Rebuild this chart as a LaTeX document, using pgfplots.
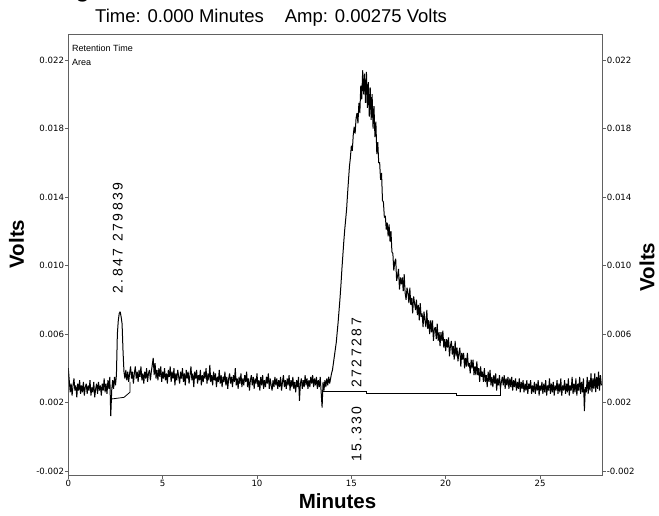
\documentclass[border=0pt]{standalone}
\usepackage{fontspec}
\setmainfont{Liberation Sans}
\usepackage{pgfplots}
\pgfplotsset{compat=1.18}
\usepackage{pgfplotstable}
\newfontfamily\tickfont{DejaVu Sans}
\newfontfamily\annfont[LetterSpace=18]{Liberation Sans}
\definecolor{axgray}{gray}{0.38}

\pgfplotstableread{
t v
0.00 0.0040
0.05 0.0033
0.10 0.0026
0.15 0.0031
0.20 0.0024
0.25 0.0030
0.30 0.0034
0.35 0.0027
0.40 0.0030
0.45 0.0023
0.50 0.0031
0.55 0.0027
0.60 0.0033
0.65 0.0025
0.70 0.0030
0.75 0.0026
0.80 0.0032
0.85 0.0024
0.90 0.0029
0.95 0.0031
1.00 0.0025
1.05 0.0030
1.10 0.0027
1.15 0.0033
1.20 0.0024
1.25 0.0029
1.30 0.0026
1.35 0.0032
1.40 0.0023
1.45 0.0028
1.50 0.0031
1.55 0.0025
1.60 0.0032
1.65 0.0027
1.70 0.0030
1.75 0.0024
1.80 0.0031
1.85 0.0027
1.90 0.0034
1.95 0.0026
2.00 0.0031
2.05 0.0025
2.10 0.0033
2.15 0.0028
2.20 0.0035
2.25 0.0012
2.30 0.0027
2.35 0.0033
2.40 0.0028
2.45 0.0035
2.50 0.0030
2.55 0.0036
2.60 0.0060
2.65 0.0068
2.70 0.0072
2.75 0.0073
2.80 0.0070
2.85 0.0066
2.90 0.0050
2.95 0.0038
3.00 0.0034
3.05 0.0039
3.10 0.0033
3.15 0.0038
3.20 0.0032
3.25 0.0037
3.30 0.0041
3.35 0.0034
3.40 0.0038
3.45 0.0031
3.50 0.0037
3.55 0.0041
3.60 0.0034
3.65 0.0038
3.70 0.0032
3.75 0.0039
3.80 0.0035
3.85 0.0041
3.90 0.0033
3.95 0.0037
4.00 0.0031
4.05 0.0038
4.10 0.0034
4.15 0.0040
4.20 0.0032
4.25 0.0037
4.30 0.0039
4.35 0.0033
4.40 0.0038
4.45 0.0042
4.50 0.0046
4.55 0.0036
4.60 0.0043
4.65 0.0034
4.70 0.0039
4.75 0.0033
4.80 0.0040
4.85 0.0035
4.90 0.0041
4.95 0.0032
5.00 0.0038
5.05 0.0034
5.10 0.0040
5.15 0.0033
5.20 0.0037
5.25 0.0031
5.30 0.0039
5.35 0.0035
5.40 0.0041
5.45 0.0032
5.50 0.0038
5.55 0.0034
5.60 0.0040
5.65 0.0030
5.70 0.0037
5.75 0.0033
5.80 0.0039
5.85 0.0035
5.90 0.0031
5.95 0.0038
6.00 0.0034
6.05 0.0040
6.10 0.0032
6.15 0.0037
6.20 0.0030
6.25 0.0039
6.30 0.0034
6.35 0.0038
6.40 0.0031
6.45 0.0036
6.50 0.0041
6.55 0.0033
6.60 0.0037
6.65 0.0029
6.70 0.0038
6.75 0.0034
6.80 0.0039
6.85 0.0031
6.90 0.0036
6.95 0.0033
7.00 0.0039
7.05 0.0030
7.10 0.0036
7.15 0.0032
7.20 0.0038
7.25 0.0034
7.30 0.0040
7.35 0.0031
7.40 0.0037
7.45 0.0033
7.50 0.0042
7.55 0.0032
7.60 0.0036
7.65 0.0030
7.70 0.0038
7.75 0.0033
7.80 0.0037
7.85 0.0029
7.90 0.0035
7.95 0.0032
8.00 0.0039
8.05 0.0031
8.10 0.0036
8.15 0.0029
8.20 0.0035
8.25 0.0032
8.30 0.0038
8.35 0.0030
8.40 0.0035
8.45 0.0028
8.50 0.0034
8.55 0.0037
8.60 0.0031
8.65 0.0035
8.70 0.0029
8.75 0.0036
8.80 0.0032
8.85 0.0040
8.90 0.0030
8.95 0.0034
9.00 0.0028
9.05 0.0035
9.10 0.0031
9.15 0.0037
9.20 0.0029
9.25 0.0034
9.30 0.0030
9.35 0.0036
9.40 0.0032
9.45 0.0038
9.50 0.0029
9.55 0.0034
9.60 0.0027
9.65 0.0033
9.70 0.0036
9.75 0.0030
9.80 0.0035
9.85 0.0028
9.90 0.0034
9.95 0.0031
10.00 0.0037
10.05 0.0029
10.10 0.0033
10.15 0.0027
10.20 0.0035
10.25 0.0030
10.30 0.0036
10.35 0.0028
10.40 0.0033
10.45 0.0029
10.50 0.0035
10.55 0.0031
10.60 0.0037
10.65 0.0028
10.70 0.0034
10.75 0.0030
10.80 0.0027
10.85 0.0033
10.90 0.0029
10.95 0.0035
11.00 0.0030
11.05 0.0034
11.10 0.0028
11.15 0.0033
11.20 0.0029
11.25 0.0035
11.30 0.0027
11.35 0.0032
11.40 0.0036
11.45 0.0029
11.50 0.0033
11.55 0.0028
11.60 0.0034
11.65 0.0030
11.70 0.0036
11.75 0.0027
11.80 0.0033
11.85 0.0029
11.90 0.0035
11.95 0.0028
12.00 0.0032
12.05 0.0026
12.10 0.0033
12.15 0.0029
12.20 0.0035
12.25 0.0021
12.30 0.0031
12.35 0.0034
12.40 0.0028
12.45 0.0033
12.50 0.0029
12.55 0.0036
12.60 0.0030
12.65 0.0034
12.70 0.0028
12.75 0.0033
12.80 0.0029
12.85 0.0035
12.90 0.0031
12.95 0.0036
13.00 0.0029
13.05 0.0034
13.10 0.0030
13.15 0.0035
13.20 0.0028
13.25 0.0033
13.30 0.0029
13.35 0.0035
13.40 0.0026
13.45 0.0017
13.50 0.0032
13.55 0.0027
13.60 0.0033
13.65 0.0029
13.70 0.0034
13.75 0.0030
13.80 0.0035
13.85 0.0031
13.90 0.0034
13.95 0.0037
14.00 0.0039
14.05 0.0043
14.10 0.0047
14.15 0.0051
14.20 0.0055
14.25 0.0061
14.30 0.0067
14.35 0.0074
14.40 0.0081
14.45 0.0089
14.50 0.0098
14.55 0.0106
14.60 0.0114
14.65 0.0121
14.70 0.0127
14.75 0.0133
14.80 0.0142
14.85 0.0150
14.90 0.0158
14.95 0.0163
15.00 0.0170
15.05 0.0167
15.10 0.0176
15.15 0.0181
15.20 0.0177
15.25 0.0186
15.30 0.0189
15.35 0.0183
15.40 0.0195
15.45 0.0189
15.50 0.0205
15.55 0.0197
15.60 0.0214
15.65 0.0200
15.70 0.0212
15.75 0.0195
15.80 0.0213
15.85 0.0192
15.90 0.0207
15.95 0.0187
16.00 0.0204
16.05 0.0185
16.10 0.0200
16.15 0.0180
16.20 0.0193
16.25 0.0175
16.30 0.0184
16.35 0.0165
16.40 0.0172
16.45 0.0160
16.50 0.0160
16.55 0.0150
16.60 0.0154
16.65 0.0138
16.70 0.0137
16.75 0.0128
16.80 0.0129
16.85 0.0121
16.90 0.0125
16.95 0.0117
17.00 0.0124
17.05 0.0114
17.10 0.0120
17.15 0.0108
17.20 0.0107
17.25 0.0097
17.30 0.0102
17.35 0.0104
17.40 0.0091
17.45 0.0094
17.50 0.0098
17.55 0.0086
17.60 0.0093
17.65 0.0089
17.70 0.0093
17.75 0.0085
17.80 0.0095
17.85 0.0084
17.90 0.0080
17.95 0.0087
18.00 0.0084
18.05 0.0078
18.10 0.0087
18.15 0.0077
18.20 0.0081
18.25 0.0072
18.30 0.0082
18.35 0.0078
18.40 0.0074
18.45 0.0080
18.50 0.0071
18.55 0.0077
18.60 0.0068
18.65 0.0078
18.70 0.0070
18.75 0.0072
18.80 0.0064
18.85 0.0073
18.90 0.0068
18.95 0.0064
19.00 0.0074
19.05 0.0063
19.10 0.0068
19.15 0.0060
19.20 0.0068
19.25 0.0061
19.30 0.0068
19.35 0.0056
19.40 0.0063
19.45 0.0064
19.50 0.0057
19.55 0.0066
19.60 0.0056
19.65 0.0061
19.70 0.0053
19.75 0.0061
19.80 0.0056
19.85 0.0062
19.90 0.0052
19.95 0.0057
20.00 0.0050
20.05 0.0057
20.10 0.0052
20.15 0.0058
20.20 0.0047
20.25 0.0053
20.30 0.0056
20.35 0.0048
20.40 0.0053
20.45 0.0045
20.50 0.0056
20.55 0.0047
20.60 0.0052
20.65 0.0044
20.70 0.0049
20.75 0.0052
20.80 0.0041
20.85 0.0049
20.90 0.0045
20.95 0.0049
21.00 0.0040
21.05 0.0046
21.10 0.0041
21.15 0.0049
21.20 0.0041
21.25 0.0043
21.30 0.0037
21.35 0.0045
21.40 0.0040
21.45 0.0045
21.50 0.0036
21.55 0.0041
21.60 0.0036
21.65 0.0044
21.70 0.0036
21.75 0.0040
21.80 0.0032
21.85 0.0041
21.90 0.0035
21.95 0.0038
22.00 0.0032
22.05 0.0040
22.10 0.0032
22.15 0.0036
22.20 0.0029
22.25 0.0038
22.30 0.0032
22.35 0.0039
22.40 0.0030
22.45 0.0035
22.50 0.0029
22.55 0.0036
22.60 0.0031
22.65 0.0037
22.70 0.0027
22.75 0.0034
22.80 0.0030
22.85 0.0036
22.90 0.0028
22.95 0.0032
23.00 0.0035
23.05 0.0030
23.10 0.0036
23.15 0.0028
23.20 0.0034
23.25 0.0030
23.30 0.0035
23.35 0.0028
23.40 0.0034
23.45 0.0029
23.50 0.0035
23.55 0.0027
23.60 0.0033
23.65 0.0029
23.70 0.0034
23.75 0.0027
23.80 0.0032
23.85 0.0028
23.90 0.0034
23.95 0.0026
24.00 0.0032
24.05 0.0028
24.10 0.0033
24.15 0.0026
24.20 0.0031
24.25 0.0027
24.30 0.0033
24.35 0.0025
24.40 0.0031
24.45 0.0028
24.50 0.0033
24.55 0.0025
24.60 0.0030
24.65 0.0026
24.70 0.0032
24.75 0.0025
24.80 0.0031
24.85 0.0027
24.90 0.0033
24.95 0.0024
25.00 0.0030
25.05 0.0027
25.10 0.0032
25.15 0.0025
25.20 0.0031
25.25 0.0026
25.30 0.0033
25.35 0.0024
25.40 0.0030
25.45 0.0027
25.50 0.0034
25.55 0.0025
25.60 0.0031
25.65 0.0026
25.70 0.0032
25.75 0.0024
25.80 0.0030
25.85 0.0027
25.90 0.0033
25.95 0.0025
26.00 0.0031
26.05 0.0026
26.10 0.0034
26.15 0.0024
26.20 0.0030
26.25 0.0027
26.30 0.0033
26.35 0.0025
26.40 0.0031
26.45 0.0026
26.50 0.0034
26.55 0.0024
26.60 0.0030
26.65 0.0027
26.70 0.0035
26.75 0.0025
26.80 0.0031
26.85 0.0026
26.90 0.0034
26.95 0.0024
27.00 0.0031
27.05 0.0027
27.10 0.0035
27.15 0.0025
27.20 0.0032
27.25 0.0026
27.30 0.0034
27.35 0.0015
27.40 0.0029
27.45 0.0026
27.50 0.0035
27.55 0.0025
27.60 0.0033
27.65 0.0027
27.70 0.0037
27.75 0.0026
27.80 0.0034
27.85 0.0028
27.90 0.0037
27.95 0.0026
28.00 0.0035
28.05 0.0028
28.10 0.0038
28.15 0.0027
28.20 0.0036
28.25 0.0030
}\trace

\pgfplotstableread{
t v
2.26 0.0022
2.95 0.0023
3.27 0.0026
3.27 0.0032
}\baseA

\pgfplotstableread{
t v
13.50 0.00262
15.81 0.00262
15.81 0.00252
20.58 0.00252
20.58 0.00243
22.88 0.00243
22.88 0.00295
}\baseB

\begin{document}
\begin{tikzpicture}[x=1pt,y=1pt]
\useasboundingbox (0,0) rectangle (659,515);
\pgfplotsset{
  common/.style={
    at={(68.3pt,40pt)}, anchor=south west,
    scale only axis, width=534.2pt, height=441pt,
    xmin=0, xmax=28.31, ymin=-0.002234, ymax=0.023518,
    scaled y ticks=false, scaled x ticks=false,
    ytick={-0.002,0.002,0.006,0.010,0.014,0.018,0.022},
    yticklabels={-0.002,0.002,0.006,0.010,0.014,0.018,0.022},
    axis line style={axgray, line width=0.8pt},
    tick style={axgray, line width=0.8pt},
    tick align=outside, major tick length=3.5pt,
    ticklabel style={font=\tickfont\fontsize{8.6}{10}\selectfont, text=black},
    yticklabel style={inner sep=0.6pt},
    xticklabel style={inner sep=1.5pt},
  }
}
\begin{axis}[common,
  xtick={0,5,10,15,20,25},
  xticklabels={0,5,10,15,20,25},
  xtick pos=left, ytick pos=left,
  clip=true,
]
\addplot[black, line width=1.0pt, line join=miter, miter limit=2] table[x=t,y=v] {\trace};
\addplot[black, line width=0.8pt] table[x=t,y=v] {\baseA};
\addplot[black, line width=0.8pt] table[x=t,y=v] {\baseB};
\node[rotate=90, inner sep=0pt, font=\annfont\fontsize{14}{16}\selectfont] at (axis cs:2.63,0.01161) {2.847  279839};
\node[rotate=90, inner sep=0pt, font=\annfont\fontsize{14}{16}\selectfont] at (axis cs:15.28,0.0049) {2727287};
\node[rotate=90, inner sep=0pt, font=\annfont\fontsize{14}{16}\selectfont] at (axis cs:15.28,0.00015) {15.330};
\end{axis}
\begin{axis}[common,
  axis x line=none, axis y line*=right,
  ytick pos=right, yticklabel pos=right,
]
\end{axis}
% header and labels
\node[anchor=base west, inner sep=0pt, font=\fontsize{27}{30}\selectfont] at (75,518) {g};
\node[anchor=base west, inner sep=0pt, font=\fontsize{18.5}{22}\selectfont] at (95,492) {Time: 0.000 Minutes\hspace{21pt}Amp: 0.00275 Volts};
\node[anchor=base west, inner sep=0pt, font=\fontsize{9}{10}\selectfont] at (72,463) {Retention Time};
\node[anchor=base west, inner sep=0pt, font=\fontsize{9}{10}\selectfont] at (72,449) {Area};
\node[rotate=90, inner sep=0pt, font=\bfseries\fontsize{20.5}{24}\selectfont] at (16.5,271) {Volts};
\node[rotate=90, inner sep=0pt, font=\bfseries\fontsize{20.5}{24}\selectfont] at (647,248) {Volts};
\node[anchor=base, inner sep=0pt, font=\bfseries\fontsize{20.5}{24}\selectfont] at (337.5,7) {Minutes};
\end{tikzpicture}
\end{document}
